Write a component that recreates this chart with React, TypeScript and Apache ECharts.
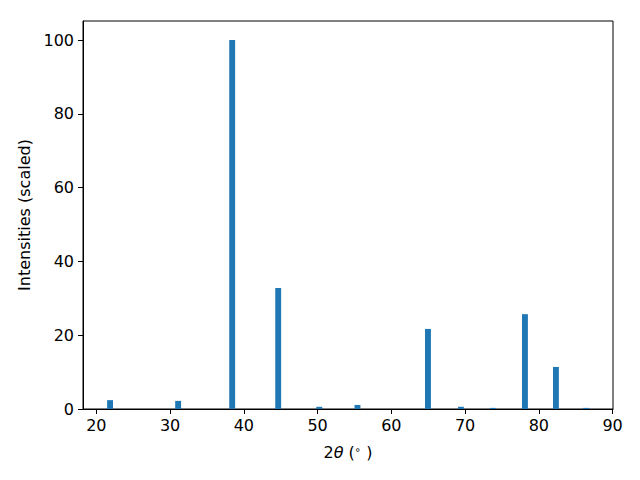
import React, { useEffect, useRef } from "react";
import * as echarts from "echarts";

const twoTheta = [21.86, 31.09, 38.42, 44.66, 50.23, 55.41, 64.97, 69.44, 73.78, 78.12, 82.32, 86.39];
const intensities = [2.4, 2.2, 100, 32.8, 0.6, 1.1, 21.7, 0.6, 0.3, 25.7, 11.4, 0.3];
const xTicks = [20, 30, 40, 50, 60, 70, 80, 90];
const yTicks = [0, 20, 40, 60, 80, 100];

export default function App() {
  const ref = useRef<HTMLDivElement>(null);
  useEffect(() => {
    if (!ref.current) return;
    const chart = echarts.init(ref.current, null, { renderer: "svg" });
    const font = "DejaVu Sans";
    chart.setOption({
      animation: false,
      textStyle: { fontFamily: font },
      grid: {
        left: 83,
        right: 27,
        top: 21,
        bottom: 71,
        show: true,
        borderColor: "#000",
        borderWidth: 1,
        backgroundColor: "#fff",
      },
      xAxis: {
        type: "value",
        min: 18.19,
        max: 90.06,
        splitLine: { show: false },
        axisLine: { show: true, lineStyle: { color: "#000", width: 1 } },
        axisTick: { show: true, length: 5, customValues: xTicks, lineStyle: { color: "#000" } },
        axisLabel: {
          customValues: xTicks,
          margin: 8,
          fontSize: 16,
          color: "#000",
          fontFamily: font,
        },
        name: "{n|2}{i|θ}{n| (}{s|∘}{n| )}",
        nameLocation: "middle",
        nameGap: 35,
        nameTextStyle: {
          rich: {
            n: { fontSize: 16, fontFamily: font, color: "#000" },
            i: { fontSize: 16, fontFamily: font, fontStyle: "italic", color: "#000" },
            s: { fontSize: 10, fontFamily: font, color: "#000", verticalAlign: "top", padding: [0, 0, 7, 0] },
          },
        },
      },
      yAxis: {
        type: "value",
        min: 0,
        max: 105.15,
        splitLine: { show: false },
        axisLine: { show: true, lineStyle: { color: "#000", width: 1 } },
        axisTick: { show: true, length: 5, customValues: yTicks, lineStyle: { color: "#000" } },
        axisLabel: {
          customValues: yTicks,
          margin: 9,
          fontSize: 16,
          color: "#000",
          fontFamily: font,
        },
        name: "Intensities (scaled)",
        nameLocation: "middle",
        nameGap: 50,
        nameTextStyle: { fontSize: 16, fontFamily: font, color: "#000" },
      },
      series: [
        {
          type: "bar",
          data: twoTheta.map((x, i) => [x, intensities[i]]),
          barWidth: 5.9,
          itemStyle: { color: "#1f77b4" },
        },
      ],
    });
    return () => chart.dispose();
  }, []);
  return <div ref={ref} style={{ width: 640, height: 480, position: "absolute", left: 0, top: 0 }} />;
}
